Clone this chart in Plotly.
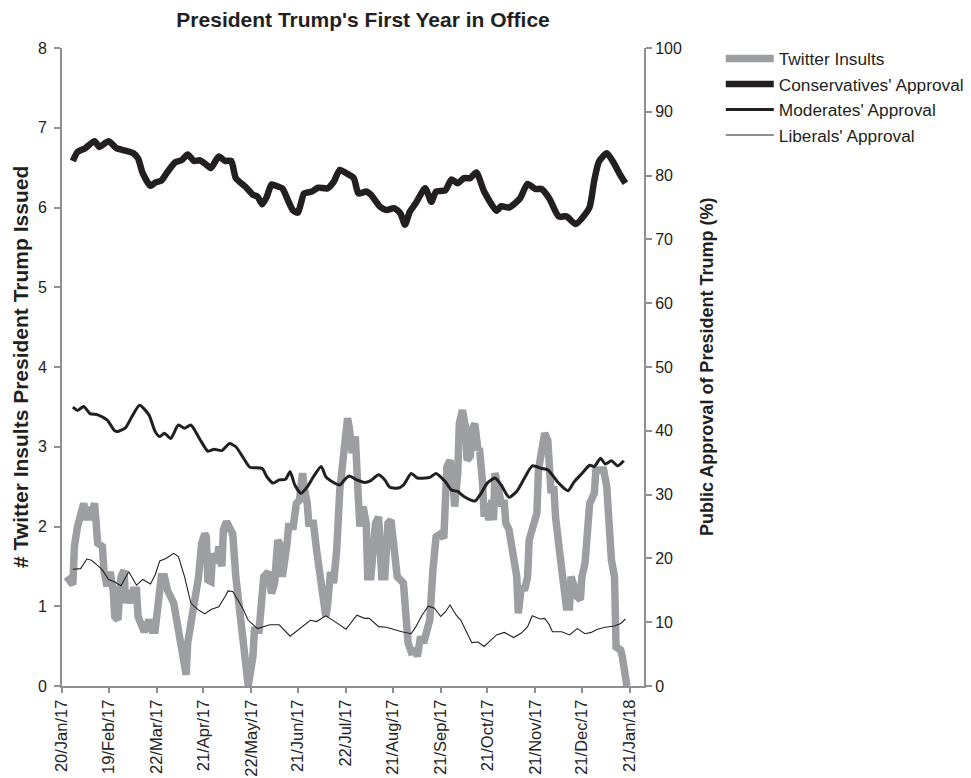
import plotly.graph_objects as go

# ---------------- data ----------------
tick_dates = ["2017-01-20", "2017-02-19", "2017-03-22", "2017-04-21", "2017-05-22", "2017-06-21",
              "2017-07-22", "2017-08-21", "2017-09-21", "2017-10-21", "2017-11-21", "2017-12-21", "2018-01-21"]
tick_labels = ["20/Jan/17", "19/Feb/17", "22/Mar/17", "21/Apr/17", "22/May/17", "21/Jun/17",
               "22/Jul/17", "21/Aug/17", "21/Sep/17", "21/Oct/17", "21/Nov/17", "21/Dec/17", "21/Jan/18"]

insult_dates = [
    "2017-01-23", "2017-01-27", "2017-01-28", "2017-01-30",
    "2017-02-03", "2017-02-05", "2017-02-06", "2017-02-07", "2017-02-10", "2017-02-11", "2017-02-12", "2017-02-15",
    "2017-02-16", "2017-02-18", "2017-02-20", "2017-02-22", "2017-02-23", "2017-02-25", "2017-02-27",
    "2017-03-01", "2017-03-02", "2017-03-03", "2017-03-05", "2017-03-07", "2017-03-09", "2017-03-10", "2017-03-12",
    "2017-03-14", "2017-03-17", "2017-03-19", "2017-03-21", "2017-03-23", "2017-03-25", "2017-03-27", "2017-03-29",
    "2017-04-02", "2017-04-05", "2017-04-08", "2017-04-10", "2017-04-11", "2017-04-14", "2017-04-16", "2017-04-18",
    "2017-04-20", "2017-04-22", "2017-04-23", "2017-04-24", "2017-04-26", "2017-04-27", "2017-04-30",
    "2017-05-01", "2017-05-03", "2017-05-04", "2017-05-06", "2017-05-08", "2017-05-10", "2017-05-12", "2017-05-15",
    "2017-05-17", "2017-05-19", "2017-05-20", "2017-05-23", "2017-05-24", "2017-05-27", "2017-05-30",
    "2017-06-02", "2017-06-04", "2017-06-06", "2017-06-08", "2017-06-10", "2017-06-11", "2017-06-14", "2017-06-15",
    "2017-06-18", "2017-06-20", "2017-06-22", "2017-06-24", "2017-06-25", "2017-06-27", "2017-06-28",
    "2017-07-01", "2017-07-03", "2017-07-05", "2017-07-07", "2017-07-09", "2017-07-10", "2017-07-12", "2017-07-14",
    "2017-07-16", "2017-07-18", "2017-07-20", "2017-07-22", "2017-07-23", "2017-07-24", "2017-07-26", "2017-07-28",
    "2017-07-29", "2017-07-30", "2017-07-31",
    "2017-08-02", "2017-08-04", "2017-08-05", "2017-08-07", "2017-08-10", "2017-08-12", "2017-08-14", "2017-08-16",
    "2017-08-18", "2017-08-20", "2017-08-22", "2017-08-24", "2017-08-28", "2017-08-29", "2017-08-31",
    "2017-09-02", "2017-09-05", "2017-09-06", "2017-09-08", "2017-09-10", "2017-09-12", "2017-09-14", "2017-09-16",
    "2017-09-18", "2017-09-21", "2017-09-23", "2017-09-25", "2017-09-27", "2017-09-29", "2017-09-30",
    "2017-10-02", "2017-10-03", "2017-10-05", "2017-10-07", "2017-10-08", "2017-10-10", "2017-10-12", "2017-10-13",
    "2017-10-15", "2017-10-16", "2017-10-18", "2017-10-19", "2017-10-20", "2017-10-22", "2017-10-24", "2017-10-25",
    "2017-10-26", "2017-10-28", "2017-10-30",
    "2017-11-01", "2017-11-02", "2017-11-04", "2017-11-07", "2017-11-09", "2017-11-10", "2017-11-12", "2017-11-14",
    "2017-11-16", "2017-11-17", "2017-11-19", "2017-11-22", "2017-11-23", "2017-11-25", "2017-11-27", "2017-11-29",
    "2017-11-30",
    "2017-12-01", "2017-12-03", "2017-12-04", "2017-12-07", "2017-12-09", "2017-12-11", "2017-12-13", "2017-12-14",
    "2017-12-16", "2017-12-18", "2017-12-20", "2017-12-21", "2017-12-23", "2017-12-24", "2017-12-26", "2017-12-27",
    "2017-12-29", "2017-12-30",
    "2018-01-01", "2018-01-04", "2018-01-06", "2018-01-07", "2018-01-09", "2018-01-11", "2018-01-12", "2018-01-15",
    "2018-01-16", "2018-01-19"]
insult_values = [
    1.37, 1.27, 1.75, 2.0,
    2.29, 2.08, 2.25, 2.08, 2.29, 2.12, 1.79, 1.75, 1.45, 1.25, 1.43, 1.2, 0.87, 0.83, 1.37,
    1.45, 1.04, 1.2, 1.04, 1.2, 1.2, 0.87, 0.74, 0.68, 0.83, 0.70, 0.70, 0.99, 1.37, 1.37, 1.2,
    1.04, 0.70, 0.28, 0.14, 0.54, 0.87, 1.04, 1.37, 1.79, 1.91, 1.87, 1.33, 1.31, 1.66, 1.54,
    1.75, 1.5, 1.96, 2.06, 2.0, 1.91, 1.37, 0.87, 0.37, 0.03, 0.0, 0.37, 0.7, 0.7, 1.37,
    1.43, 1.16, 1.29, 1.83, 1.75, 1.37, 1.79, 2.0, 2.0, 2.29, 2.33, 2.67, 2.50, 2.29, 2.04,
    2.04, 1.71, 1.37, 1.16, 0.87, 0.99, 1.43, 1.29, 1.71, 2.46, 2.92, 3.21, 3.36, 3.25, 2.92, 3.13, 2.88, 2.33, 2.0,
    2.25, 2.04, 1.37, 1.37, 2.04, 2.12, 1.37, 1.37, 2.04, 2.08, 1.71, 1.37, 1.29, 1.04, 0.54,
    0.43, 0.45, 0.37, 0.62, 0.54, 0.70, 0.83, 1.45, 1.87, 1.91, 1.85, 2.75, 2.83, 2.54, 2.25,
    2.67, 3.29, 3.46, 3.25, 2.83, 2.88, 3.25, 3.29, 2.96, 2.98, 2.54, 2.12, 2.29, 2.08, 2.33, 2.08, 2.67, 2.50, 2.29,
    2.29, 2.04, 1.96, 1.50, 1.37, 0.91, 1.25, 1.2, 1.37, 1.83, 2.0, 2.17, 2.71, 3.0, 3.17, 3.08, 2.75,
    2.46, 2.46, 2.12, 1.62, 1.29, 0.99, 0.99, 1.37, 1.25, 1.12, 1.08, 1.37, 1.54, 1.91, 2.29, 2.33, 2.42, 2.71,
    2.71, 2.71, 2.50, 2.12, 1.58, 1.37, 0.49, 0.45, 0.37, 0.0]

cons_dates = [
    "2017-01-27", "2017-01-30", "2017-02-04", "2017-02-10", "2017-02-13", "2017-02-19", "2017-02-24",
    "2017-03-02", "2017-03-07", "2017-03-10", "2017-03-13", "2017-03-18", "2017-03-21", "2017-03-25", "2017-03-29",
    "2017-04-03", "2017-04-07", "2017-04-11", "2017-04-15", "2017-04-19", "2017-04-23", "2017-04-26",
    "2017-05-01", "2017-05-05", "2017-05-09", "2017-05-12", "2017-05-18", "2017-05-23", "2017-05-26", "2017-05-29",
    "2017-06-01", "2017-06-04", "2017-06-08", "2017-06-11", "2017-06-15", "2017-06-18", "2017-06-21", "2017-06-23",
    "2017-06-25", "2017-06-30",
    "2017-07-04", "2017-07-10", "2017-07-14", "2017-07-18", "2017-07-22", "2017-07-27", "2017-07-30",
    "2017-08-04", "2017-08-07", "2017-08-13", "2017-08-17", "2017-08-22", "2017-08-26", "2017-08-29",
    "2017-09-01", "2017-09-05", "2017-09-11", "2017-09-15", "2017-09-18", "2017-09-24", "2017-09-28",
    "2017-10-02", "2017-10-06", "2017-10-10", "2017-10-14", "2017-10-19", "2017-10-27", "2017-10-30",
    "2017-11-04", "2017-11-11", "2017-11-16", "2017-11-21", "2017-11-25", "2017-11-30",
    "2017-12-06", "2017-12-11", "2017-12-17", "2017-12-22", "2017-12-26", "2017-12-29",
    "2018-01-01", "2018-01-06", "2018-01-10", "2018-01-14", "2018-01-18"]
cons_values = [
    82.3, 83.7, 84.3, 85.4, 84.5, 85.4, 84.3,
    83.9, 83.5, 82.7, 80.4, 78.4, 78.9, 79.2, 80.6,
    82.1, 82.4, 83.3, 82.3, 82.4, 81.7, 81.2,
    83.0, 82.3, 82.3, 79.6, 78.3, 77.0, 76.7, 75.5,
    76.7, 78.6, 78.3, 78.0, 75.9, 74.5, 74.2, 75.7, 77.2, 77.5,
    78.1, 78.0, 79.0, 80.9, 80.4, 79.6, 77.2,
    77.5, 77.0, 75.1, 74.6, 74.9, 74.1, 72.3,
    74.3, 75.7, 78.0, 75.9, 77.5, 77.7, 79.4,
    78.8, 79.6, 79.6, 80.5, 77.5, 74.5, 75.2,
    75.0, 76.4, 78.7, 77.9, 77.9, 76.4,
    73.6, 73.6, 72.4, 73.6, 75.1, 79.3,
    82.2, 83.5, 82.2, 80.4, 78.8]

mod_dates = [
    "2017-01-27", "2017-01-30",
    "2017-02-03", "2017-02-07", "2017-02-12", "2017-02-18", "2017-02-23", "2017-02-25",
    "2017-03-02", "2017-03-06", "2017-03-11", "2017-03-17", "2017-03-21", "2017-03-24", "2017-03-27", "2017-03-31",
    "2017-04-05", "2017-04-09", "2017-04-13", "2017-04-19", "2017-04-24", "2017-04-28",
    "2017-05-03", "2017-05-08", "2017-05-12", "2017-05-17", "2017-05-21", "2017-05-29",
    "2017-06-01", "2017-06-05", "2017-06-09", "2017-06-13", "2017-06-16", "2017-06-19", "2017-06-23", "2017-06-27",
    "2017-07-01", "2017-07-06", "2017-07-09", "2017-07-14", "2017-07-18", "2017-07-21", "2017-07-24", "2017-07-29",
    "2017-08-03", "2017-08-07", "2017-08-12", "2017-08-16", "2017-08-19", "2017-08-24", "2017-08-28",
    "2017-09-02", "2017-09-06", "2017-09-11", "2017-09-14", "2017-09-18", "2017-09-24", "2017-09-28",
    "2017-10-02", "2017-10-06", "2017-10-13", "2017-10-17", "2017-10-21", "2017-10-26", "2017-10-30",
    "2017-11-04", "2017-11-09", "2017-11-14", "2017-11-19", "2017-11-25", "2017-11-29",
    "2017-12-06", "2017-12-12", "2017-12-16", "2017-12-21", "2017-12-26", "2017-12-29",
    "2018-01-02", "2018-01-05", "2018-01-09", "2018-01-13", "2018-01-17"]
mod_values = [
    43.7, 43.2,
    43.8, 42.7, 42.5, 41.7, 40.0, 39.9,
    40.5, 42.2, 44.0, 42.5, 39.9, 39.1, 39.6, 38.8,
    40.9, 40.4, 40.9, 38.6, 36.8, 37.1,
    36.9, 38.0, 37.5, 35.7, 34.3, 34.1,
    32.8, 31.8, 32.3, 32.4, 33.6, 31.5, 30.2, 31.2,
    32.8, 34.4, 32.8, 31.9, 31.5, 32.3, 32.9, 32.3,
    31.9, 32.2, 33.1, 32.3, 31.2, 31.0, 31.5,
    33.3, 32.6, 32.6, 32.7, 33.3, 32.0, 30.7,
    30.5, 29.7, 29.0, 30.2, 31.8, 32.6, 31.5,
    29.6, 30.5, 32.6, 34.5, 34.1, 33.9,
    31.8, 30.6, 32.0, 33.3, 34.6, 34.4,
    35.7, 34.8, 35.3, 34.5, 35.3]

lib_dates = [
    "2017-01-27", "2017-02-01", "2017-02-05", "2017-02-08", "2017-02-11", "2017-02-15", "2017-02-19", "2017-02-23",
    "2017-02-27", "2017-03-04", "2017-03-09", "2017-03-13", "2017-03-18", "2017-03-21", "2017-03-24", "2017-03-28",
    "2017-04-02", "2017-04-05", "2017-04-09", "2017-04-13", "2017-04-18", "2017-04-22", "2017-04-26",
    "2017-05-01", "2017-05-05", "2017-05-07", "2017-05-10", "2017-05-16", "2017-05-20", "2017-05-26",
    "2017-06-03", "2017-06-09", "2017-06-16", "2017-06-22", "2017-06-29",
    "2017-07-03", "2017-07-09", "2017-07-16", "2017-07-22", "2017-07-29",
    "2017-08-03", "2017-08-06", "2017-08-12", "2017-08-17", "2017-08-21", "2017-08-27",
    "2017-09-02", "2017-09-05", "2017-09-09", "2017-09-13", "2017-09-17", "2017-09-21", "2017-09-24", "2017-09-27",
    "2017-10-01", "2017-10-04", "2017-10-08", "2017-10-11", "2017-10-15", "2017-10-19", "2017-10-23", "2017-10-27",
    "2017-11-01", "2017-11-07", "2017-11-12", "2017-11-16", "2017-11-19", "2017-11-24", "2017-11-27", "2017-11-30",
    "2017-12-02", "2017-12-08", "2017-12-13", "2017-12-18", "2017-12-23", "2017-12-27", "2017-12-31",
    "2018-01-05", "2018-01-11", "2018-01-15", "2018-01-18"]
lib_values = [
    18.3, 18.4, 19.9, 19.7, 19.1, 18.2, 16.7, 16.3,
    15.7, 17.9, 15.8, 16.7, 16.0, 17.4, 19.6, 20.0,
    20.8, 20.3, 17.1, 13.0, 11.9, 11.3, 12.0,
    12.4, 14.0, 14.9, 14.8, 12.4, 10.3, 9.0,
    9.6, 9.6, 7.8, 9.0, 10.3,
    10.1, 11.0, 9.9, 8.9, 11.1,
    10.6, 10.6, 9.3, 9.2, 8.9, 8.5,
    8.2, 9.3, 11.1, 12.5, 12.2, 10.9, 11.6, 12.7,
    11.1, 10.3, 8.3, 6.8, 6.9, 6.2, 7.1, 8.0,
    8.4, 7.6, 8.3, 9.3, 11.0, 10.5, 10.6, 9.6,
    8.5, 8.5, 8.0, 9.0, 8.2, 8.4, 8.9,
    9.2, 9.4, 9.8, 10.5]

# ---------------- figure ----------------
FONT = "Liberation Sans, Arial, sans-serif"
INK = "#231f20"
AXIS = "#8f9093"
TICKFONT = dict(family=FONT, size=16, color="#222222")

fig = go.Figure()
fig.add_trace(go.Scatter(x=insult_dates, y=insult_values, name="Twitter Insults", mode="lines",
                         line=dict(color="#9c9ea1", width=7.5), yaxis="y"))
fig.add_trace(go.Scatter(x=cons_dates, y=cons_values, name="Conservatives' Approval", mode="lines",
                         line=dict(color=INK, width=6.5, shape="spline", smoothing=0.6), yaxis="y2"))
fig.add_trace(go.Scatter(x=mod_dates, y=mod_values, name="Moderates' Approval", mode="lines",
                         line=dict(color=INK, width=3, shape="spline", smoothing=0.6), yaxis="y2"))
fig.add_trace(go.Scatter(x=lib_dates, y=lib_values, name="Liberals' Approval", mode="lines",
                         line=dict(color=INK, width=1.1), yaxis="y2"))

line_style = dict(showgrid=False, zeroline=False, showline=True, linecolor=AXIS, linewidth=2,
                  ticks="outside", tickwidth=1.5, tickcolor=AXIS)

fig.update_layout(
    width=963, height=770,
    margin=dict(l=54, r=327, t=40, b=92, autoexpand=False),
    paper_bgcolor="white", plot_bgcolor="white",
    font=dict(family=FONT, color=INK),
    title=dict(text="<b>President Trump's First Year in Office</b>", xref="container", x=0.3687,
               xanchor="center", yref="container", y=0.9844, yanchor="middle",
               font=dict(family=FONT, size=21, color=INK)),
    xaxis=dict(type="date", range=["2017-01-20", "2018-01-30"], tickmode="array",
               tickvals=tick_dates, ticktext=tick_labels, tickangle=-90, automargin=False, ticklen=5,
               tickfont=dict(family=FONT, size=16.5, color="#222222"), **line_style),
    yaxis=dict(range=[0, 8], dtick=1, tick0=0, automargin=False, tickfont=TICKFONT, ticklen=6,
               ticklabelstandoff=4, **line_style),
    yaxis2=dict(range=[0, 100], dtick=10, tick0=0, overlaying="y", side="right", automargin=False,
                tickfont=TICKFONT, ticklen=6, **line_style),
    legend=dict(x=1.1319, xanchor="left", y=1.0113, yanchor="top", itemwidth=48,
                font=dict(family=FONT, size=17.3, color=INK), bgcolor="rgba(0,0,0,0)",
                tracegroupgap=0),
    showlegend=True,
    annotations=[
        dict(text="<b># Twitter Insults President Trump Issued</b>", xref="paper", yref="paper",
             x=-0.0722, y=0.5, xanchor="center", yanchor="middle", textangle=-90, showarrow=False,
             font=dict(family=FONT, size=21, color=INK)),
        dict(text="<b>Public Approval of President Trump (%)</b>", xref="paper", yref="paper",
             x=1.1082, y=0.5, xanchor="center", yanchor="middle", textangle=-90, showarrow=False,
             font=dict(family=FONT, size=18, color=INK)),
    ],
)

fig.write_html("out.html")
